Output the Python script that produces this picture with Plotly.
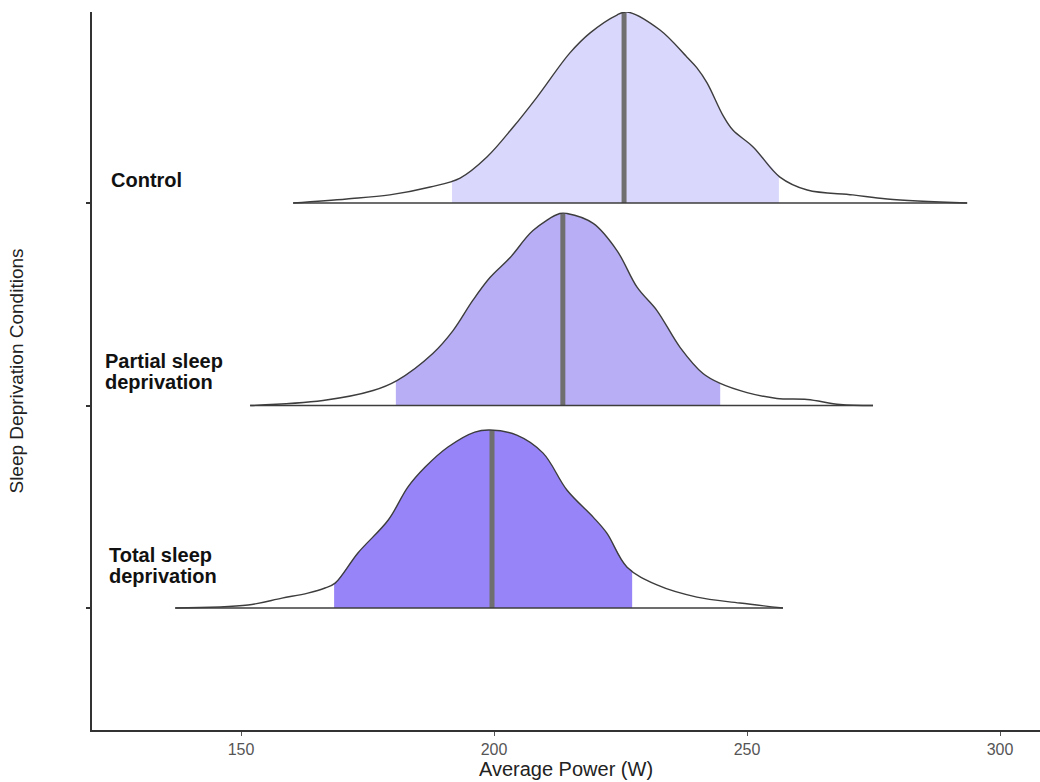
import numpy as np
import plotly.graph_objects as go

# ---- data ----
label_lines = [["Total sleep", "deprivation"], ["Partial sleep", "deprivation"], ["Control"]]
row_pos = [1, 2, 3]

# density outlines: x (W) and ridge height (in row units)
control_x = [160.3, 170.9, 179.4, 187.4, 193.3, 198.6, 203.8, 208.5, 215.0, 219.0, 224.3, 226.3,
             232.8, 238.1, 240.1, 242.1, 245.3, 247.2, 251.2, 256.5, 261.9, 270.9, 277.7, 293.5]
control_h = [0.0, 0.020, 0.040, 0.079, 0.123, 0.227, 0.375, 0.523, 0.741, 0.840, 0.928, 0.943,
             0.854, 0.721, 0.667, 0.593, 0.430, 0.360, 0.277, 0.128, 0.064, 0.040, 0.020, 0.0]

partial_x = [151.8, 166.2, 176.1, 180.8, 187.9, 191.9, 195.8, 199.2, 203.2, 207.7, 213.0, 214.4,
             219.6, 224.3, 228.3, 232.2, 236.8, 241.3, 244.7, 250.0, 255.9, 261.9, 268.4, 274.9]
partial_h = [0.0, 0.025, 0.074, 0.123, 0.257, 0.370, 0.519, 0.632, 0.731, 0.864, 0.948, 0.948,
             0.899, 0.765, 0.583, 0.469, 0.286, 0.158, 0.109, 0.064, 0.035, 0.030, 0.005, 0.0]

total_x = [137.0, 151.4, 158.1, 163.2, 166.6, 168.6, 173.1, 179.1, 183.0, 186.4, 190.9, 196.2,
           199.2, 204.5, 209.7, 214.4, 219.6, 222.3, 226.3, 232.2, 240.1, 248.6, 257.1]
total_h = [0.0, 0.015, 0.049, 0.074, 0.099, 0.123, 0.272, 0.435, 0.598, 0.696, 0.795, 0.869,
           0.879, 0.854, 0.765, 0.583, 0.449, 0.370, 0.202, 0.114, 0.054, 0.025, 0.0]

# interval bounds and medians
lower = [168.4, 180.6, 191.7]
upper = [227.3, 244.7, 256.3]
median = [199.6, 213.6, 225.7]

fill_colors = ["#9784F8", "#B7AEF6", "#DAD7FC"]

xs = [total_x, partial_x, control_x]
hs = [total_h, partial_h, control_h]

FONT = "Liberation Sans, Arial, sans-serif"
fig = go.Figure()

for i in range(3):
    base = row_pos[i]
    x = np.array(xs[i])
    h = np.array(hs[i])
    lo, hi, med = lower[i], upper[i], median[i]
    # baseline for fill
    fig.add_trace(go.Scatter(x=[lo, hi], y=[base, base], mode="lines",
                             line=dict(width=0, color="rgba(0,0,0,0)"),
                             hoverinfo="skip", showlegend=False))
    inside = (x > lo) & (x < hi)
    fx = np.concatenate([[lo], x[inside], [hi]])
    fy = np.concatenate([[np.interp(lo, x, h)], h[inside], [np.interp(hi, x, h)]]) + base
    fig.add_trace(go.Scatter(x=fx, y=fy, mode="lines", fill="tonexty",
                             fillcolor=fill_colors[i],
                             line=dict(width=0, shape="spline", smoothing=1.0,
                                       color="rgba(0,0,0,0)"),
                             hoverinfo="skip", showlegend=False))
    # median line
    fig.add_trace(go.Scatter(x=[med, med], y=[base, base + np.interp(med, x, h)],
                             mode="lines", line=dict(width=5, color="#6f6f6f"),
                             hoverinfo="skip", showlegend=False))
    # outline
    fig.add_trace(go.Scatter(x=x, y=h + base, mode="lines",
                             line=dict(width=1.4, color="#3d3d3d", shape="spline", smoothing=1.0),
                             hoverinfo="skip", showlegend=False))
    fig.add_trace(go.Scatter(x=[x[0], x[-1]], y=[base, base], mode="lines",
                             line=dict(width=1.4, color="#3d3d3d"),
                             hoverinfo="skip", showlegend=False))

# category labels (one annotation per text line)
label_x = [123.5, 122.7, 123.9]
label_y = [[1.264, 1.160], [2.220, 2.116], [3.116]]
for i in range(3):
    for j, line in enumerate(label_lines[i]):
        fig.add_annotation(x=label_x[i], y=label_y[i][j], text="<b>" + line + "</b>",
                           showarrow=False, xanchor="left", yanchor="middle", align="left",
                           font=dict(family=FONT, size=20, color="#111111"))

fig.update_layout(
    width=1040, height=782,
    margin=dict(l=92, r=0, t=12, b=52),
    paper_bgcolor="white", plot_bgcolor="white",
    font=dict(family=FONT),
    showlegend=False,
    xaxis=dict(range=[120.55, 307.9], tickvals=[150, 200, 250, 300],
               showgrid=False, zeroline=False,
               showline=True, linecolor="#333333", linewidth=1.5,
               ticks="outside", ticklen=4, tickcolor="#555555", tickwidth=1,
               tickfont=dict(size=16, color="#555555"),
               title=dict(text="Average Power (W)", font=dict(size=20, color="#222222"), standoff=4)),
    yaxis=dict(range=[0.398, 3.943], tickvals=row_pos, showticklabels=False,
               showgrid=False, zeroline=False,
               showline=True, linecolor="#333333", linewidth=1.5,
               ticks="outside", ticklen=4, tickcolor="#333333", tickwidth=2,
               title=dict(text="Sleep Deprivation Conditions", font=dict(size=19, color="#222222"),
                          standoff=58)),
)

fig.write_html("out.html")
